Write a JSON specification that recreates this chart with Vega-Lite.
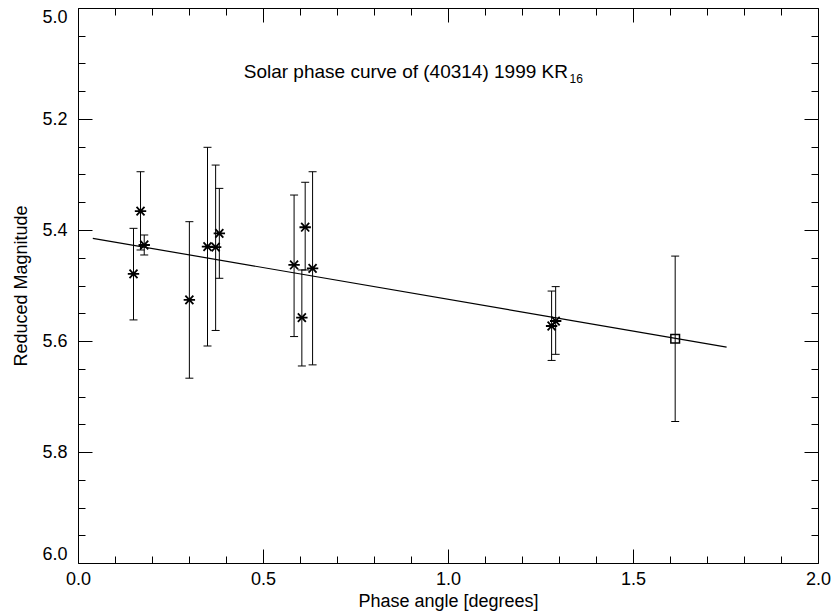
{
  "$schema": "https://vega.github.io/schema/vega-lite/v6.json",
  "width": 740,
  "height": 555,
  "autosize": "none",
  "padding": {"left": 78, "top": 8, "right": 19, "bottom": 52},
  "background": "white",
  "config": {
    "font": "Liberation Sans",
    "view": {"stroke": null},
    "axis": {
      "grid": false,
      "domainColor": "black",
      "domainWidth": 1,
      "tickColor": "black",
      "tickWidth": 1,
      "labelColor": "black",
      "titleColor": "black",
      "labelFont": "Liberation Sans",
      "titleFont": "Liberation Sans",
      "labelFontSize": 18,
      "titleFontSize": 18,
      "titleFontWeight": "normal",
      "labelFlush": false,
      "labelOverlap": false
    }
  },
  "datasets": {
    "obs": [
      {"phase": 0.150, "mag": 5.479, "lo": 5.397, "hi": 5.562, "kind": "star"},
      {"phase": 0.169, "mag": 5.366, "lo": 5.295, "hi": 5.436, "kind": "star"},
      {"phase": 0.179, "mag": 5.427, "lo": 5.409, "hi": 5.445, "kind": "star"},
      {"phase": 0.301, "mag": 5.526, "lo": 5.385, "hi": 5.667, "kind": "star"},
      {"phase": 0.350, "mag": 5.430, "lo": 5.251, "hi": 5.609, "kind": "star"},
      {"phase": 0.372, "mag": 5.431, "lo": 5.283, "hi": 5.581, "kind": "star"},
      {"phase": 0.382, "mag": 5.406, "lo": 5.325, "hi": 5.487, "kind": "star"},
      {"phase": 0.584, "mag": 5.463, "lo": 5.337, "hi": 5.592, "kind": "star"},
      {"phase": 0.605, "mag": 5.558, "lo": 5.472, "hi": 5.645, "kind": "star"},
      {"phase": 0.614, "mag": 5.395, "lo": 5.314, "hi": 5.472, "kind": "star"},
      {"phase": 0.634, "mag": 5.469, "lo": 5.295, "hi": 5.643, "kind": "star"},
      {"phase": 1.280, "mag": 5.573, "lo": 5.510, "hi": 5.635, "kind": "star"},
      {"phase": 1.291, "mag": 5.564, "lo": 5.502, "hi": 5.624, "kind": "star"},
      {"phase": 1.614, "mag": 5.596, "lo": 5.447, "hi": 5.745, "kind": "square"}
    ],
    "fit": [
      {"phase": 0.04, "mag": 5.415},
      {"phase": 1.753, "mag": 5.611}
    ],
    "titles": [
      {"label": "Solar phase curve of (40314) 1999 KR", "sub": "16"}
    ]
  },
  "layer": [
    {
      "data": {"name": "obs"},
      "encoding": {
        "x": {
          "field": "phase",
          "type": "quantitative",
          "scale": {"domain": [0, 2], "nice": false, "zero": false},
          "axis": {
            "orient": "bottom",
            "title": "Phase angle [degrees]",
            "values": [0, 0.1, 0.2, 0.3, 0.4, 0.5, 0.6, 0.7, 0.8, 0.9, 1.0, 1.1, 1.2, 1.3, 1.4, 1.5, 1.6, 1.7, 1.8, 1.9, 2.0],
            "labelExpr": "round(datum.value*10) % 5 === 0 ? format(datum.value, '.1f') : ''",
            "tickSize": {"condition": {"test": "round(datum.value*10) % 5 === 0", "value": -14}, "value": -7},
            "labelPadding": 21,
            "titlePadding": -3
          }
        },
        "y": {
          "field": "mag",
          "type": "quantitative",
          "scale": {"domain": [5, 6], "reverse": true, "nice": false, "zero": false},
          "axis": {
            "orient": "left",
            "title": "Reduced Magnitude",
            "values": [5.0, 5.05, 5.1, 5.15, 5.2, 5.25, 5.3, 5.35, 5.4, 5.45, 5.5, 5.55, 5.6, 5.65, 5.7, 5.75, 5.8, 5.85, 5.9, 5.95, 6.0],
            "labelExpr": "round(datum.value*100) % 20 === 0 ? format(datum.value, '.1f') : ''",
            "tickSize": {"condition": {"test": "round(datum.value*100) % 20 === 0", "value": -14}, "value": -7},
            "labelPadding": 25,
            "labelFlush": true,
            "titlePadding": 11
          }
        }
      },
      "layer": [
        {
          "mark": {"type": "rule", "color": "black", "strokeWidth": 1},
          "encoding": {"y": {"field": "lo", "type": "quantitative"}, "y2": {"field": "hi"}}
        },
        {
          "mark": {"type": "tick", "orient": "horizontal", "size": 8, "thickness": 1, "color": "black", "opacity": 1},
          "encoding": {"y": {"field": "lo", "type": "quantitative"}}
        },
        {
          "mark": {"type": "tick", "orient": "horizontal", "size": 8, "thickness": 1, "color": "black", "opacity": 1},
          "encoding": {"y": {"field": "hi", "type": "quantitative"}}
        },
        {
          "transform": [{"filter": "datum.kind === 'star'"}],
          "mark": {"type": "point", "shape": "M-1,0L1,0M-0.7,-0.75L0.7,0.75M-0.7,0.75L0.7,-0.75", "size": 130, "filled": false, "stroke": "black", "strokeWidth": 1.8, "opacity": 1}
        },
        {
          "transform": [{"filter": "datum.kind === 'square'"}],
          "mark": {"type": "point", "shape": "square", "size": 75, "filled": false, "stroke": "black", "strokeWidth": 1.5, "opacity": 1}
        }
      ]
    },
    {
      "data": {"name": "fit"},
      "mark": {"type": "line", "color": "black", "strokeWidth": 1.2},
      "encoding": {
        "x": {
          "field": "phase",
          "type": "quantitative",
          "scale": {"domain": [0, 2], "nice": false, "zero": false},
          "axis": {
            "orient": "top",
            "title": null,
            "labels": false,
            "values": [0, 0.1, 0.2, 0.3, 0.4, 0.5, 0.6, 0.7, 0.8, 0.9, 1.0, 1.1, 1.2, 1.3, 1.4, 1.5, 1.6, 1.7, 1.8, 1.9, 2.0],
            "tickSize": {"condition": {"test": "round(datum.value*10) % 5 === 0", "value": -14}, "value": -7}
          }
        },
        "y": {
          "field": "mag",
          "type": "quantitative",
          "scale": {"domain": [5, 6], "reverse": true, "nice": false, "zero": false},
          "axis": {
            "orient": "right",
            "title": null,
            "labels": false,
            "values": [5.0, 5.05, 5.1, 5.15, 5.2, 5.25, 5.3, 5.35, 5.4, 5.45, 5.5, 5.55, 5.6, 5.65, 5.7, 5.75, 5.8, 5.85, 5.9, 5.95, 6.0],
            "tickSize": {"condition": {"test": "round(datum.value*100) % 20 === 0", "value": -14}, "value": -7}
          }
        }
      }
    },
    {
      "data": {"name": "titles"},
      "mark": {"type": "text", "align": "right", "baseline": "alphabetic", "fontSize": 19, "font": "Liberation Sans", "color": "black"},
      "encoding": {
        "x": {"datum": 1.3243, "type": "quantitative", "scale": {"domain": [0, 2], "nice": false, "zero": false}, "axis": null},
        "y": {"datum": 5.1261, "type": "quantitative", "scale": {"domain": [5, 6], "reverse": true, "nice": false, "zero": false}, "axis": null},
        "text": {"field": "label"}
      }
    },
    {
      "data": {"name": "titles"},
      "mark": {"type": "text", "align": "left", "baseline": "alphabetic", "fontSize": 12, "font": "Liberation Sans", "color": "black"},
      "encoding": {
        "x": {"datum": 1.3284, "type": "quantitative", "scale": {"domain": [0, 2], "nice": false, "zero": false}, "axis": null},
        "y": {"datum": 5.135, "type": "quantitative", "scale": {"domain": [5, 6], "reverse": true, "nice": false, "zero": false}, "axis": null},
        "text": {"field": "sub"}
      }
    }
  ],
  "resolve": {"scale": {"x": "independent", "y": "independent"}}
}
